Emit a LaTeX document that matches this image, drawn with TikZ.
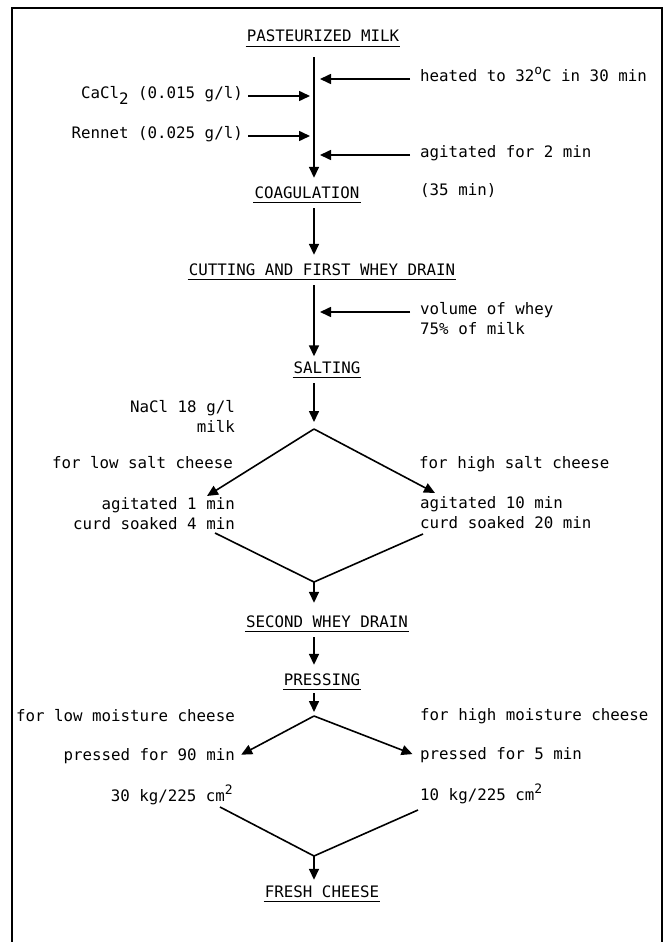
\documentclass[tikz,border=0pt]{standalone}
\usepackage{fontspec}
\setmonofont{DejaVu Sans Mono}
\usetikzlibrary{arrows.meta}

\newcommand\raiseup[1]{\raisebox{7pt}{\fontsize{13}{13}\selectfont #1}}
\newcommand\lowdown[1]{\raisebox{-6pt}{#1}}

\tikzset{
  every node/.style={font=\ttfamily\fontsize{15.8}{20}\selectfont, inner sep=0pt},
  stage/.style={inner xsep=1pt, inner ysep=4.5pt, text height=11.5pt, text depth=0pt, anchor=base},
  note/.style={anchor=mid west},
  flow/.style={line width=1.6pt, -{Triangle[length=11pt,width=10pt]}, shorten <=5.5pt, shorten >=4pt},
  side/.style={line width=1.6pt, -{Triangle[length=11pt,width=10pt]}},
  wire/.style={line width=1.6pt}
}

\begin{document}
\begin{tikzpicture}[x=1pt,y=-1pt]
\useasboundingbox (0,0) rectangle (667,942);

% frame, open at the bottom
\draw[line width=1.3pt] (12,942) -- (12,8) -- (662,8) -- (662,942);

\coordinate (axis) at (314,0);

% main stages
\node[stage] (milk) at (323,42) {PASTEURIZED MILK};
\node[stage] (coag) at (307,198) {COAGULATION};
\node[stage] (cut) at (322,275) {CUTTING AND FIRST WHEY DRAIN};
\node[stage] (salt) at (327,373) {SALTING};
\node[stage] (drain) at (327,627) {SECOND WHEY DRAIN};
\node[stage] (press) at (322,685) {PRESSING};
\node[stage] (cheese) at (322,897) {FRESH CHEESE};
\foreach \n in {milk,coag,cut,salt,drain,press,cheese}
  \draw[line width=1pt] (\n.south west) -- (\n.south east);

% coagulation
\node[note] (heat) at (420,79) {heated to 32\raiseup{o}C in 30 min};
\node[note, anchor=mid east] (cacl) at (243,96) {CaCl\lowdown{2} (0.015 g/l)};
\node[note, anchor=mid east] (rennet) at (243,136) {Rennet (0.025 g/l)};
\node[note] (agit) at (420,155) {agitated for 2 min};
\node[note] (wait) at (420,193) {(35 min)};

\draw[flow, shorten <=10.5pt] (milk.south -| axis) -- (coag.north -| axis);
\foreach \n in {heat,agit}
  \draw[side, shorten <=10pt, shorten >=6pt] (\n.mid west) -- (\n.mid west -| axis);
\foreach \n in {cacl,rennet}
  \draw[side, shorten <=5pt, shorten >=4pt] (\n.mid east) -- (\n.mid east -| axis);

% first whey drain
\draw[flow] (coag.south -| axis) -- (cut.north -| axis);
\node[note, align=left, anchor=north west] (whey) at (420,302) {volume of whey\\75\% of milk};
\coordinate (wheyin) at ([yshift=-10pt]whey.north west);
\draw[side, shorten <=10pt, shorten >=6pt] (wheyin) -- (wheyin -| axis);
\draw[flow, shorten >=0.5pt] (cut.south -| axis) -- (salt.north -| axis);

% salting
\coordinate (split) at (314,429);
\coordinate (lowin) at (207,496);
\coordinate (highin) at (435,493);
\coordinate (lowout) at (215,533);
\coordinate (highout) at (423,534);
\coordinate (join) at (314,582);

\node[note, align=right, anchor=north east] (nacl) at (235,400) {NaCl 18 g/l\\milk};
\node[note, anchor=mid east] (lowsalt) at (233,466) {for low salt cheese};
\node[note] (highsalt) at (419,466) {for high salt cheese};
\node[note, align=right, anchor=north east] (lowsoak) at (235,497) {agitated 1 min\\curd soaked 4 min};
\node[note, align=left, anchor=north west] (highsoak) at (420,496) {agitated 10 min\\curd soaked 20 min};

\draw[flow, shorten >=7pt] (salt.south -| axis) -- (split);
\draw[side] (split) -- (lowin);
\draw[side] (split) -- (highin);
\draw[wire] (lowout) -- (join) -- (highout);
\draw[flow, shorten <=0pt, shorten >=8pt] (join) -- (join |- drain.north);

% pressing
\draw[flow] (drain.south -| axis) -- (press.north -| axis);
\coordinate (fork) at (314,716);
\coordinate (lowend) at (220,807);
\coordinate (highend) at (418,810);
\coordinate (join2) at (314,856);

\node[note, anchor=mid east] (lowmoist) at (235,719) {for low moisture cheese};
\node[note] (highmoist) at (420,718) {for high moisture cheese};
\node[note, anchor=mid east] (lowtime) at (235,758) {pressed for 90 min};
\node[note] (hightime) at (420,757) {pressed for 5 min};
\node[note, anchor=mid east] (lowload) at (233,799) {30 kg/225 cm\raiseup{2}};
\node[note] (highload) at (420,798) {10 kg/225 cm\raiseup{2}};

\draw[flow, shorten <=3.5pt] (press.south -| axis) -- (fork);
\draw[side, shorten >=7pt] (fork) -- (lowtime.mid east);
\draw[side, shorten >=8pt] (fork) -- (hightime.mid west);
\draw[wire] (lowend) -- (join2) -- (highend);
\draw[flow, shorten <=0pt, shorten >=1pt] (join2) -- (join2 |- cheese.north);
\end{tikzpicture}
\end{document}
